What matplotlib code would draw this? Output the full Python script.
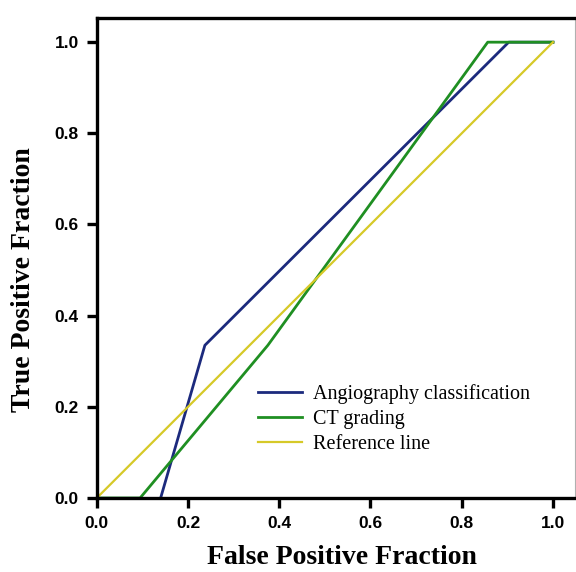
import matplotlib
matplotlib.use("Agg")
import matplotlib.pyplot as plt

angio_x = [0.14, 0.237, 0.903, 1.0]
angio_y = [0.0, 0.335, 1.0, 1.0]
ct_x = [0.0, 0.095, 0.375, 0.857, 1.0]
ct_y = [0.0, 0.0, 0.335, 1.0, 1.0]
ref_x = [0.0, 1.0]
ref_y = [0.0, 1.0]
labels = ["Angiography classification", "CT grading", "Reference line"]
ticks = [0.0, 0.2, 0.4, 0.6, 0.8, 1.0]
tick_labels = ["0.0", "0.2", "0.4", "0.6", "0.8", "1.0"]

fig = plt.figure(figsize=(5.76, 5.72), dpi=100)
ax = fig.add_axes([0.168, 0.1294, 0.83, 0.8391])

ax.plot(angio_x, angio_y, color="#1c2a7d", lw=2.0, label=labels[0])
ax.plot(ct_x, ct_y, color="#1f8f22", lw=2.0, label=labels[1])
ax.plot(ref_x, ref_y, color="#d6c928", lw=1.6, label=labels[2])

ax.set_xlim(0, 1.048)
ax.set_ylim(0, 1.053)
ax.set_xticks(ticks)
ax.set_xticklabels(tick_labels)
ax.set_yticks(ticks)
ax.set_yticklabels(tick_labels)
for lab in ax.get_xticklabels() + ax.get_yticklabels():
    lab.set_fontfamily("Liberation Sans")
    lab.set_fontweight("bold")
    lab.set_fontsize(12.5)
ax.tick_params(direction="out", length=7, width=2.4, pad=6)

for s in ["left", "bottom", "top"]:
    ax.spines[s].set_linewidth(2.4)
    ax.spines[s].set_color("black")
ax.spines["right"].set_linewidth(0.8)
ax.spines["right"].set_color("#b0b0b0")

ax.set_xlabel("False Positive Fraction", fontfamily="Liberation Serif",
              fontweight="bold", fontsize=20)
ax.set_ylabel("True Positive Fraction", fontfamily="Liberation Serif",
              fontweight="bold", fontsize=20)
ax.xaxis.set_label_coords(0.513, -0.099)
ax.yaxis.set_label_coords(-0.128, 0.455)

leg = ax.legend(loc="upper left", bbox_to_anchor=(0.2996, 0.275), frameon=False,
                prop={"family": "Liberation Serif", "size": 14.5},
                handlelength=2.2, handletextpad=0.5, labelspacing=0.3)

fig.savefig("out.png", dpi=100)
